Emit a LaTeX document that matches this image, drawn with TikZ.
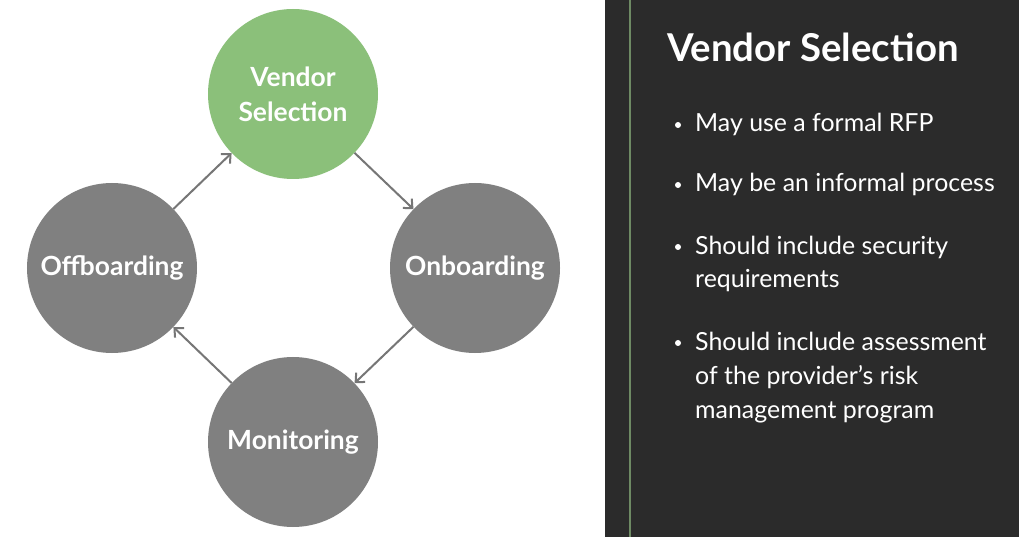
\documentclass[tikz,border=0pt]{standalone}
\usepackage{fontspec}
\setmainfont{Lato}
\usepackage{xcolor}
\usetikzlibrary{arrows.meta,positioning}
\definecolor{vendgreen}{HTML}{8BC07A}
\definecolor{phasegray}{HTML}{808080}
\definecolor{arrowgray}{HTML}{767676}
\definecolor{panel}{HTML}{2B2B2B}
\definecolor{panelline}{HTML}{6E8A64}

\begin{document}
\begin{tikzpicture}[x=1bp, y=-1bp, >={Straight Barb[length=7bp,width=13bp]},
  phase/.style={circle, fill=phasegray, minimum size=170bp, inner sep=0pt, text=white,
    font=\fontsize{26.5}{35}\selectfont\bfseries, align=center},
  cycarrow/.style={->, draw=arrowgray, line width=2bp},
  note/.style={anchor=base west, inner sep=0pt, text=white, align=left,
    font=\fontsize{25}{34}\selectfont}]
\useasboundingbox (0,0) rectangle (1019,537);
\fill[white] (0,0) rectangle (605,537);
\fill[panel] (605,0) rectangle (1019,537);
\draw[panelline, line width=1.5bp] (630,0) -- (630,537);
% --- Left: cycle ---
\node[phase, fill=vendgreen] (vendor) at (293,94) {Vendor\\Selection};
\node[phase] (onboard) at (475,268) {Onboarding};
\node[phase] (monitor) at (293,442) {Monitoring};
\node[phase] (offboard) at (112,268) {Offboarding};
\foreach \a/\b in {vendor/onboard, onboard/monitor, monitor/offboard, offboard/vendor}
  \draw[cycarrow] (\a) -- (\b);
% --- Right: notes ---
\node[anchor=base west, inner sep=0pt, text=white, font=\fontsize{38.5}{46}\selectfont\bfseries]
  (title) at (667,62) {Vendor Selection};
% y = first baseline, n = number of lines
\foreach \y/\n/\txt/\nm in {132/1/{May use a formal RFP}/rfp,
    192/1/{May be an informal process}/informal,
    254/2/{Should include security\\requirements}/security,
    350/3/{Should include assessment\\of the provider’s risk\\management program}/assess} {
  \node[note] (\nm) at (695,{\y+34*(\n-1)}) {\txt};
  \fill[white] (678,\y-7) circle (3bp); }
\end{tikzpicture}
\end{document}
